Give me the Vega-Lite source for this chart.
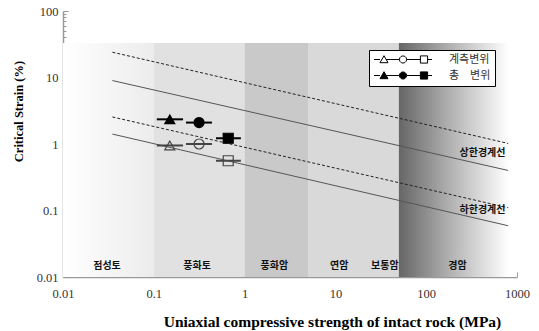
{
  "$schema": "https://vega.github.io/schema/vega-lite/v6.json",
  "width": 454,
  "height": 266,
  "autosize": "none",
  "padding": {"left": 63, "top": 11, "right": 22, "bottom": 54},
  "background": "white",
  "config": {"view": {"stroke": null}},
  "resolve": {"axis": {"x": "independent", "y": "independent"}},
  "datasets": {
    "bands": [
      {"band": "b1", "x1": 0.01, "x2": 0.1, "y1": 0.01, "y2": 33},
      {"band": "b2", "x1": 0.1, "x2": 1, "y1": 0.01, "y2": 33},
      {"band": "b3", "x1": 1, "x2": 5, "y1": 0.01, "y2": 33},
      {"band": "b4", "x1": 5, "x2": 50, "y1": 0.01, "y2": 33},
      {"band": "b5", "x1": 50, "x2": 1000, "y1": 0.01, "y2": 33}
    ],
    "lines": [
      {"id": "ud", "style": "dashed", "x": 0.035, "y": 24},
      {"id": "ud", "style": "dashed", "x": 800, "y": 1.02},
      {"id": "us", "style": "solid", "x": 0.035, "y": 9.0},
      {"id": "us", "style": "solid", "x": 800, "y": 0.40},
      {"id": "ld", "style": "dashed", "x": 0.035, "y": 2.55},
      {"id": "ld", "style": "dashed", "x": 800, "y": 0.11},
      {"id": "ls", "style": "solid", "x": 0.035, "y": 1.41},
      {"id": "ls", "style": "solid", "x": 800, "y": 0.059}
    ],
    "points": [
      {"type": "총 변위", "marker": "triangle", "x": 0.15, "y": 2.35, "lo": 0.108, "hi": 0.21},
      {"type": "총 변위", "marker": "circle", "x": 0.315, "y": 2.1, "lo": 0.226, "hi": 0.437},
      {"type": "총 변위", "marker": "square", "x": 0.66, "y": 1.22, "lo": 0.484, "hi": 0.91},
      {"type": "계측변위", "marker": "triangle", "x": 0.15, "y": 0.95, "lo": 0.108, "hi": 0.21},
      {"type": "계측변위", "marker": "circle", "x": 0.315, "y": 1.0, "lo": 0.226, "hi": 0.437},
      {"type": "계측변위", "marker": "square", "x": 0.66, "y": 0.56, "lo": 0.484, "hi": 0.91}
    ],
    "regions": [
      {"label": "점성토", "x": 0.0305, "y": 0.0146},
      {"label": "풍화토", "x": 0.30, "y": 0.0146},
      {"label": "풍화암", "x": 2.13, "y": 0.0146},
      {"label": "연암", "x": 11, "y": 0.0146},
      {"label": "보통암", "x": 35, "y": 0.0146},
      {"label": "경암", "x": 221, "y": 0.0146}
    ],
    "bounds": [
      {"label": "상한경계선", "x": 417, "y": 0.733},
      {"label": "하한경계선", "x": 417, "y": 0.102}
    ]
  },
  "layer": [
    {
      "data": {"name": "bands"},
      "transform": [{"filter": "datum.band == 'b1'"}],
      "mark": {"type": "rect", "color": {"gradient": "linear", "x1": 0, "x2": 1, "y1": 0, "y2": 0, "stops": [{"offset": 0, "color": "#ffffff"}, {"offset": 1, "color": "#ececec"}]}},
      "encoding": {
        "x": {"field": "x1", "type": "quantitative", "scale": {"type": "log", "domain": [0.01, 1000], "nice": false},
          "axis": {
            "orient": "bottom",
            "title": "Uniaxial compressive strength of intact rock (MPa)",
            "titleFont": "Liberation Serif", "titleFontSize": 15.5, "titleFontWeight": "bold", "titleColor": "#000",
            "titleX": 269, "titleY": 49, "titleBaseline": "alphabetic",
            "values": [0.01, 0.1, 1, 10, 100, 1000],
            "labelExpr": "'' + datum.value",
            "labelFont": "Liberation Serif", "labelFontSize": 12.5, "labelColor": "#333",
            "labelPadding": 15, "labelOverlap": false, "labelFlush": false, "grid": false,
            "tickSize": -5, "tickColor": "#999", "domainColor": "#999", "domainWidth": 1.5
          }},
        "x2": {"field": "x2"},
        "y": {"field": "y1", "type": "quantitative", "scale": {"type": "log", "domain": [0.01, 100], "nice": false},
          "axis": {
            "orient": "left",
            "title": "Critical Strain (%)",
            "titleFont": "Liberation Serif", "titleFontSize": 12.5, "titleFontWeight": "bold", "titleColor": "#000",
            "titleX": -41, "titleY": 100, "titleBaseline": "alphabetic", "titleAngle": -90,
            "values": [0.01, 0.1, 1, 10, 100],
            "labelExpr": "'' + datum.value",
            "labelFont": "Liberation Serif", "labelFontSize": 12.5, "labelColor": "#333",
            "labelPadding": 10, "labelOverlap": false, "labelFlush": false, "grid": false,
            "tickSize": -5, "tickColor": "#999", "domainColor": "#999", "domainWidth": 1.5
          }},
        "y2": {"field": "y2"}
      }
    },
    {
      "data": {"name": "bands"},
      "transform": [{"filter": "datum.band == 'b2' || datum.band == 'b3' || datum.band == 'b4'"}],
      "mark": {"type": "rect"},
      "encoding": {
        "x": {"field": "x1", "type": "quantitative",
          "axis": {"orient": "bottom", "title": null, "labels": false, "domain": false, "grid": false, "tickSize": -3, "tickColor": "#999",
            "values": [0.02,0.03,0.04,0.05,0.06,0.07,0.08,0.09,0.2,0.3,0.4,0.5,0.6,0.7,0.8,0.9,2,3,4,5,6,7,8,9,20,30,40,50,60,70,80,90,200,300,400,500,600,700,800,900]}},
        "x2": {"field": "x2"},
        "y": {"field": "y1", "type": "quantitative",
          "axis": {"orient": "left", "title": null, "labels": false, "domain": false, "grid": false, "tickSize": -3, "tickColor": "#999",
            "values": [0.02,0.03,0.04,0.05,0.06,0.07,0.08,0.09,0.2,0.3,0.4,0.5,0.6,0.7,0.8,0.9,2,3,4,5,6,7,8,9,20,30,40,50,60,70,80,90]}},
        "y2": {"field": "y2"},
        "color": {"field": "band", "type": "nominal", "scale": {"domain": ["b2", "b3", "b4"], "range": ["#e1e1e1", "#c9c9c9", "#d9d9d9"]}, "legend": null}
      }
    },
    {
      "data": {"name": "bands"},
      "transform": [{"filter": "datum.band == 'b5'"}],
      "mark": {"type": "rect", "color": {"gradient": "linear", "x1": 0, "x2": 1, "y1": 0, "y2": 0, "stops": [{"offset": 0, "color": "#666666"}, {"offset": 0.45, "color": "#b4b4b4"}, {"offset": 0.93, "color": "#ffffff"}, {"offset": 1, "color": "#ffffff"}]}},
      "encoding": {
        "x": {"field": "x1", "type": "quantitative", "axis": null},
        "x2": {"field": "x2"},
        "y": {"field": "y1", "type": "quantitative", "axis": null},
        "y2": {"field": "y2"}
      }
    },
    {
      "data": {"name": "lines"},
      "transform": [{"filter": "datum.style == 'dashed'"}],
      "mark": {"type": "line", "color": "#222", "strokeWidth": 1, "strokeDash": [3, 2]},
      "encoding": {
        "x": {"field": "x", "type": "quantitative", "axis": null},
        "y": {"field": "y", "type": "quantitative", "axis": null},
        "detail": {"field": "id"}
      }
    },
    {
      "data": {"name": "lines"},
      "transform": [{"filter": "datum.style == 'solid'"}],
      "mark": {"type": "line", "color": "#555", "strokeWidth": 1},
      "encoding": {
        "x": {"field": "x", "type": "quantitative", "axis": null},
        "y": {"field": "y", "type": "quantitative", "axis": null},
        "detail": {"field": "id"}
      }
    },
    {
      "data": {"name": "points"},
      "mark": {"type": "rule", "strokeWidth": 2},
      "encoding": {
        "x": {"field": "lo", "type": "quantitative", "axis": null},
        "x2": {"field": "hi"},
        "y": {"field": "y", "type": "quantitative", "axis": null},
        "stroke": {"condition": {"test": "datum.type == '계측변위'", "value": "#444"}, "value": "#000"}
      }
    },
    {
      "data": {"name": "points"},
      "mark": {"type": "point", "filled": true, "opacity": 1, "size": 100, "strokeWidth": 1.2},
      "encoding": {
        "x": {"field": "x", "type": "quantitative", "axis": null},
        "y": {"field": "y", "type": "quantitative", "axis": null},
        "shape": {"field": "marker", "type": "nominal", "scale": {"domain": ["triangle", "circle", "square"], "range": ["triangle-up", "circle", "square"]}, "legend": null},
        "stroke": {"condition": {"test": "datum.type == '계측변위'", "value": "#444"}, "value": "#000"},
        "fill": {"field": "type", "type": "nominal", "scale": {"domain": ["계측변위", "총 변위"], "range": ["transparent", "#000000"]},
          "legend": {
            "title": null, "orient": "none", "legendX": 306, "legendY": 39,
            "symbolType": "M-1.125 0L0.375 0M0.375 0.8L1.375 -0.95L2.375 0.8ZM1.92 0L5.225 0M7.025 0L6.904 0.45L6.575 0.779L6.125 0.9L5.675 0.779L5.346 0.45L5.225 0L5.346 -0.45L5.675 -0.779L6.125 -0.9L6.575 -0.779L6.904 -0.45ZM7.025 0L10.475 0M10.475 -0.9L12.275 -0.9L12.275 0.9L10.475 0.9ZM12.275 0L13.375 0",
            "symbolSize": 64, "symbolStrokeColor": "#000", "symbolStrokeWidth": 1, "symbolOpacity": 1,
            "labelOffset": 65, "labelFont": "Noto Sans CJK KR", "labelFontSize": 11, "labelColor": "#333",
            "labelExpr": "datum.label == '총 변위' ? '총　변위　' : datum.label + '　'",
            "padding": 4, "rowPadding": 3, "strokeColor": "#000", "fillColor": "#fff"
          }}
      }
    },
    {
      "data": {"name": "regions"},
      "mark": {"type": "text", "font": "Noto Sans CJK KR", "fontSize": 10, "fontWeight": "bold", "color": "#111", "baseline": "middle", "align": "center"},
      "encoding": {
        "x": {"field": "x", "type": "quantitative", "axis": null},
        "y": {"field": "y", "type": "quantitative", "axis": null},
        "text": {"field": "label"}
      }
    },
    {
      "data": {"name": "bounds"},
      "mark": {"type": "text", "font": "Noto Sans CJK KR", "fontSize": 10, "fontWeight": "bold", "color": "#111", "baseline": "middle", "align": "center"},
      "encoding": {
        "x": {"field": "x", "type": "quantitative", "axis": null},
        "y": {"field": "y", "type": "quantitative", "axis": null},
        "text": {"field": "label"}
      }
    }
  ]
}
